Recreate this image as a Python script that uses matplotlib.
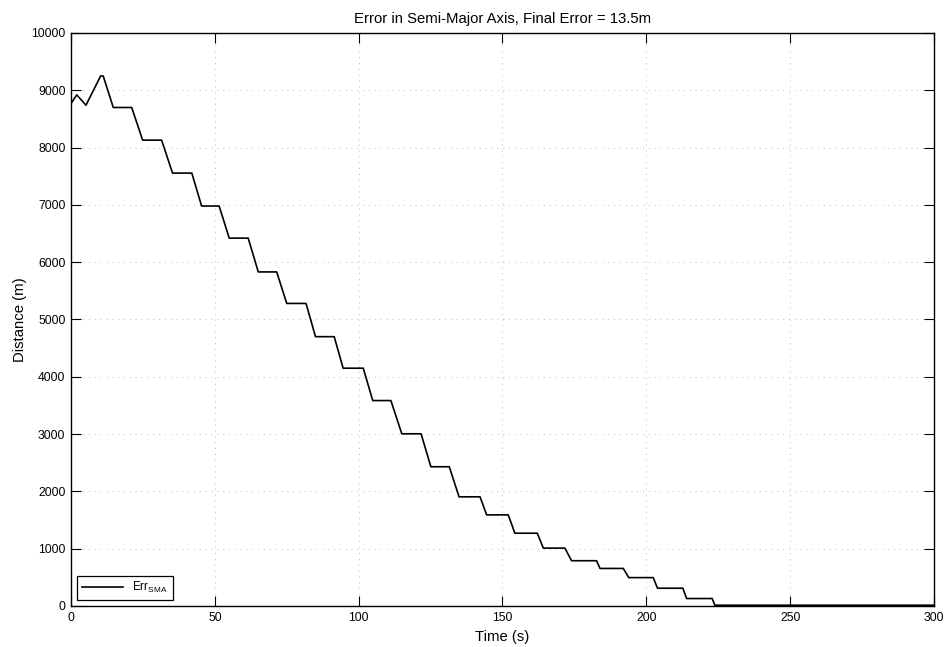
import matplotlib
matplotlib.use('Agg')
import matplotlib.pyplot as plt

plt.rcParams['font.family'] = ['Liberation Sans', 'DejaVu Sans']
plt.rcParams['mathtext.fontset'] = 'custom'
plt.rcParams['mathtext.rm'] = 'Liberation Sans'

# initial transient before the stepped decay (time s, error m)
t_start = [0.0, 2.0, 5.2, 10.3, 11.2]
err_start = [8770, 8920, 8740, 9250, 9250]

# flat segments of the semi-major axis error
step_t0 = [14.7, 24.9, 35.3, 45.4, 55.0, 65.1, 75.0, 85.0, 94.6, 104.9, 115.0,
           125.1, 134.9, 144.5, 154.3, 164.2, 174.0, 183.9, 193.9, 203.9, 214.0, 223.8]
step_t1 = [21.1, 31.5, 42.0, 51.5, 61.6, 71.5, 81.7, 91.5, 101.6, 111.2, 121.7,
           131.5, 142.2, 152.0, 162.1, 171.7, 182.7, 192.0, 202.4, 212.7, 222.9, 300.0]
step_err = [8700, 8130, 7555, 6980, 6420, 5830, 5280, 4700, 4150, 3585, 3005,
            2430, 1905, 1590, 1270, 1010, 790, 655, 495, 310, 130, 13.5]

final_err = 13.5

t = list(t_start)
err = list(err_start)
for a, b, v in zip(step_t0, step_t1, step_err):
    t += [a, b]
    err += [v, v]

fig = plt.figure(figsize=(9.48, 6.47), dpi=100)
ax = fig.add_axes([0.0749, 0.0634, 0.9103, 0.8856])

ax.plot(t, err, color='black', linewidth=1.2, label='Err$_{\\mathrm{SMA}}$')

ax.set_xlim(0, 300)
ax.set_ylim(0, 10000)
ax.set_xticks(range(0, 301, 50))
ax.set_yticks(range(0, 10001, 1000))
ax.tick_params(direction='in', length=7, width=0.8, top=True, right=True,
               labelsize=8.8, colors='black', pad=4)
ax.grid(True, color='#bdbdbd', linestyle=(0, (1, 5)), linewidth=0.7)
for s in ax.spines.values():
    s.set_linewidth(1.0)
    s.set_color('black')

ax.set_title('Error in Semi-Major Axis, Final Error = %.1fm' % final_err, fontsize=10.7, pad=7)
ax.set_xlabel('Time (s)', fontsize=10.7, labelpad=5)
ax.set_ylabel('Distance (m)', fontsize=10.7, labelpad=3)

leg = ax.legend(loc='lower left', fontsize=8.5, handlelength=3.5, fancybox=False,
                borderaxespad=0.5, framealpha=1, edgecolor='black')
leg.get_frame().set_linewidth(0.9)

fig.savefig('out.png', dpi=100)
